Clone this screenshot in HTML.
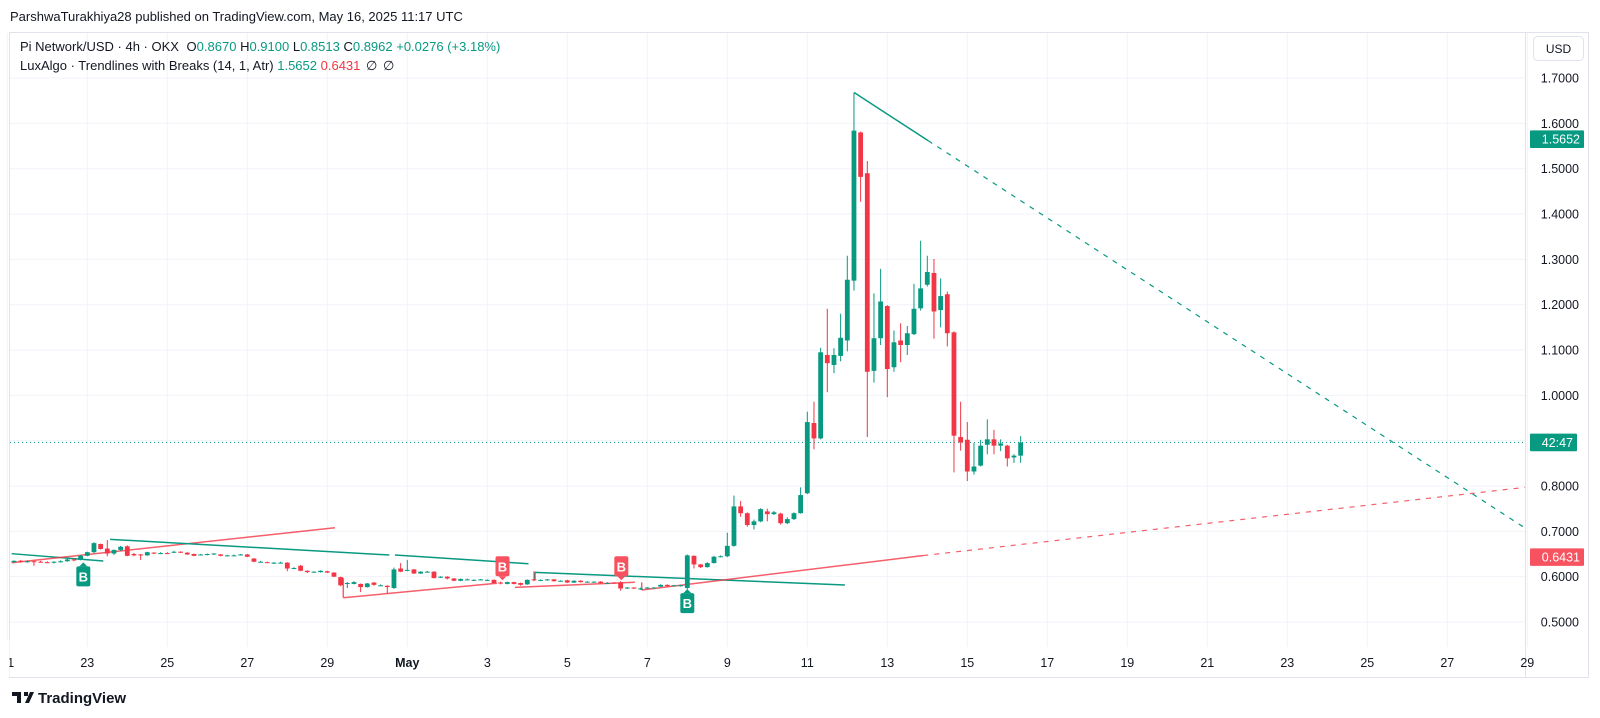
<!DOCTYPE html>
<html><head><meta charset="utf-8">
<style>
body{margin:0;background:#fff;width:1600px;height:718px;overflow:hidden;font-family:"Liberation Sans",sans-serif}
svg{position:absolute;left:0;top:0}
text{font-family:"Liberation Sans",sans-serif}
</style></head>
<body>
<svg id="chart" width="1600" height="718" viewBox="0 0 1600 718">
  <defs><clipPath id="plotclip"><rect x="10" y="33" width="1515" height="614"/></clipPath></defs>
  <text x="10" y="21" font-size="13" fill="#131722">ParshwaTurakhiya28 published on TradingView.com, May 16, 2025 11:17 UTC</text>
  <rect x="9.5" y="32.5" width="1579" height="645" fill="none" stroke="#e0e3eb"/>
  <g id="grid"></g>
  <line x1="1525.5" y1="33" x2="1525.5" y2="677" stroke="#e0e3eb"/>
  <g id="yaxis"></g>
  <g id="xaxis"></g>
  <g id="marks" clip-path="url(#plotclip)"></g>
  <g>
    <text x="20" y="51" font-size="13" fill="#131722">Pi Network/USD · 4h · OKX <tspan dx="4">O</tspan><tspan fill="#089981">0.8670</tspan> <tspan>H</tspan><tspan fill="#089981">0.9100</tspan> <tspan>L</tspan><tspan fill="#089981">0.8513</tspan> <tspan>C</tspan><tspan fill="#089981">0.8962 +0.0276 (+3.18%)</tspan></text>
    <text x="20" y="70" font-size="13" fill="#131722">LuxAlgo · Trendlines with Breaks (14, 1, Atr) <tspan fill="#089981">1.5652</tspan> <tspan fill="#f23645">0.6431</tspan> <tspan dx="2">∅</tspan> <tspan dx="2">∅</tspan></text>
  </g>
  <g>
    <rect x="1533.5" y="36.5" width="50" height="24" rx="4" fill="#fff" stroke="#e0e3eb"/>
    <text x="1558.5" y="53" font-size="12" fill="#131722" text-anchor="middle">USD</text>
  </g>
  <g>
    <path d="M12 692 h9 v11 h-4 v-7 h-5 z M24 692 h4 v4 h-4 z M30 692 h4 l-5 11 h-4 z" fill="#131722"/>
    <text x="38" y="703" font-size="15" font-weight="bold" fill="#131722">TradingView</text>
  </g>
</svg>
<script>
const opens=[.634,.632,.635,.633,.634,.633,.632,.631,.633,.634,.638,.637,.646,.654,.672,.662,.651,.659,.667,.650,.649,.647,.653,.652,.652,.653,.655,.653,.650,.648,.648,.650,.649,.647,.647,.648,.649,.640,.633,.632,.629,.631,.631,.619,.624,.613,.611,.610,.612,.609,.599,.585,.584,.584,.577,.587,.581,.580,.575,.618,.613,.616,.607,.611,.611,.599,.600,.596,.591,.594,.593,.594,.593,.593,.587,.584,.588,.586,.583,.594,.592,.593,.594,.590,.592,.587,.591,.589,.589,.589,.586,.587,.587,.575,.576,.574,.575,.575,.578,.582,.580,.580,.575,.646,.627,.621,.630,.644,.645,.668,.755,.740,.714,.722,.744,.738,.739,.718,.727,.740,.784,.939,.905,1.089,1.067,1.087,1.121,1.253,1.580,1.490,1.054,1.126,1.197,1.062,1.121,1.111,1.135,1.192,1.244,1.270,1.188,1.223,1.139,.908,.902,.832,.845,.891,.903,.889,.889,.863,.867];
const highs=[.637,.636,.637,.636,.635,.635,.634,.634,.636,.641,.640,.648,.655,.676,.673,.681,.660,.668,.669,.652,.650,.655,.654,.654,.654,.657,.656,.654,.651,.650,.651,.652,.650,.648,.649,.650,.650,.641,.635,.633,.632,.633,.632,.621,.626,.614,.612,.614,.613,.610,.600,.588,.590,.585,.586,.588,.583,.581,.620,.630,.637,.617,.612,.613,.612,.601,.601,.597,.596,.596,.594,.595,.594,.594,.589,.589,.589,.587,.594,.612,.594,.595,.595,.592,.593,.592,.592,.590,.590,.590,.588,.588,.590,.577,.577,.576,.577,.577,.583,.583,.582,.582,.649,.647,.628,.632,.646,.647,.697,.779,.767,.742,.726,.751,.750,.745,.741,.731,.742,.797,.964,.986,1.105,1.191,1.104,1.180,1.308,1.668,1.582,1.517,1.225,1.279,1.199,1.143,1.159,1.153,1.246,1.341,1.308,1.301,1.258,1.229,1.141,.986,.941,.895,.902,.947,.924,.903,.891,.870,.910];
const lows=[.630,.630,.631,.631,.624,.631,.630,.629,.631,.633,.634,.636,.645,.652,.660,.645,.648,.657,.645,.645,.637,.646,.650,.650,.650,.652,.652,.648,.645,.647,.647,.648,.645,.645,.646,.647,.643,.632,.632,.630,.628,.630,.612,.617,.612,.608,.609,.609,.608,.599,.579,.575,.583,.566,.576,.580,.580,.562,.573,.610,.612,.606,.606,.609,.596,.597,.594,.590,.590,.592,.591,.592,.591,.585,.583,.583,.583,.580,.582,.590,.590,.591,.589,.589,.586,.586,.587,.587,.587,.585,.585,.585,.569,.573,.573,.571,.574,.574,.577,.578,.579,.578,.572,.618,.619,.620,.629,.643,.643,.666,.732,.710,.704,.720,.722,.736,.715,.716,.725,.739,.782,.881,.903,1.007,1.049,1.075,1.097,1.231,1.427,.908,1.028,1.111,.996,1.052,1.073,1.089,1.133,1.187,1.240,1.125,1.150,1.108,.830,.878,.811,.825,.843,.870,.870,.877,.843,.851,.851];
const closes=[.632,.635,.633,.634,.633,.632,.631,.633,.634,.638,.637,.646,.654,.674,.661,.651,.659,.666,.646,.647,.647,.654,.652,.652,.651,.655,.653,.649,.646,.649,.650,.651,.646,.647,.647,.649,.644,.633,.633,.631,.631,.631,.618,.619,.613,.610,.611,.613,.609,.600,.581,.586,.588,.577,.585,.582,.581,.577,.616,.611,.615,.607,.611,.611,.597,.600,.596,.591,.595,.594,.593,.594,.593,.586,.586,.588,.584,.582,.593,.592,.593,.594,.590,.591,.587,.591,.588,.589,.589,.586,.586,.586,.574,.576,.575,.574,.576,.576,.582,.579,.581,.581,.647,.627,.621,.630,.644,.645,.668,.755,.740,.714,.722,.749,.738,.742,.718,.727,.740,.780,.941,.905,1.095,1.071,1.089,1.127,1.255,1.584,1.482,1.052,1.126,1.207,1.058,1.117,1.111,1.137,1.191,1.236,1.272,1.185,1.219,1.137,.911,.896,.832,.843,.889,.903,.889,.894,.861,.867,.896];
const priceTicks=[0.5,0.6,0.7,0.8,0.9,1.0,1.1,1.2,1.3,1.4,1.5,1.6,1.7];
const priceTickLabels=["0.5000","0.6000","0.7000","0.8000","","1.0000","1.1000","1.2000","1.3000","1.4000","1.5000","1.6000","1.7000"];
const dateTickDays=[0,2,4,6,8,10,12,14,16,18,20,22,24,26,28,30,32,34,36,38];
const dateTickLabels=["21","23","25","27","29","May","3","5","7","9","11","13","15","17","19","21","23","25","27","29"];
const lineDay1=[0.11,0.11,2.57,9.69,8.40,8.40,13.19,13.19,12.69,15.86,15.86,22.90,21.17,23.02];
const linePrice1=[0.6507,0.6308,0.6824,0.6478,0.5536,0.597,0.6096,0.5926,0.5765,0.5706,0.5876,0.6466,1.668,1.562];
const lineDay2=[2.40,8.19,9.55,13.03,12.24,8.40,20.94,13.19,15.69,22.90,15.86,38.02,23.02,38.02];
const linePrice2=[0.6346,0.7080,0.6478,0.6286,0.5854,0.5536,0.5816,0.6096,0.5876,0.6466,0.5706,0.7978,1.562,0.703];
const lineColor=["t","r","t","t","r","r","t","t","r","r","r","r","t","t"];
const lineDashed=[0,0,0,0,0,0,0,0,0,0,0,1,0,1];
const breakDay=[1.9,12.38,15.35,17.0];
const breakPrice=[0.636,0.5854,0.5854,0.577];
const breakType=["up","down","down","up"];
const lastPrice=0.8962, upperValue=1.5652, lowerValue=0.6431;

const NS="http://www.w3.org/2000/svg";
const xDay=d=>7.3+40*d;
const yP=p=>622-(p-0.5)*453.3;
const G="#089981",R="#f23645";
function mk(tag,attrs,parent){const e=document.createElementNS(NS,tag);for(const k in attrs)e.setAttribute(k,attrs[k]);parent.appendChild(e);return e;}
const grid=document.getElementById('grid'),yax=document.getElementById('yaxis'),xax=document.getElementById('xaxis'),marks=document.getElementById('marks');

priceTicks.forEach((p,i)=>{
  const y=yP(p);
  const gl=mk('line',{x1:10,x2:1525,y1:y,y2:y,stroke:'#f0f3fa'},grid);
  
  
  const t=mk('text',{x:1579,y:y+4.5,'font-size':12.5,fill:'#131722','text-anchor':'end'},yax);
  t.textContent=priceTickLabels[i];
  
  
});
dateTickDays.forEach((d,i)=>{
  const x=xDay(d);
  const gl=mk('line',{x1:x,x2:x,y1:33,y2:647,stroke:'#f0f3fa'},grid);
  
  
  const t=mk('text',{x:x,y:667,'font-size':12.5,fill:'#131722','text-anchor':'middle','font-weight':dateTickLabels[i]==='May'?'bold':'normal'},xax);
  t.textContent=dateTickLabels[i];
  
  
});
const cover=mk('rect',{x:0,y:640,width:9.5,height:37,fill:'#fff'},xax);



const cl=mk('line',{x1:10,x2:1525,y1:yP(lastPrice),y2:yP(lastPrice),stroke:G,'stroke-dasharray':'1 3','stroke-width':1},marks);



lineDay1.forEach((d,i)=>{
  const col=lineColor[i]==='t'?G:R;
  const ln=mk('line',{x1:xDay(d),y1:yP(linePrice1[i]),x2:xDay(lineDay2[i]),y2:yP(linePrice2[i]),stroke:col,'stroke-width':1.5,'stroke-opacity':lineColor[i]==='r'?0.8:1},marks);
  if(lineDashed[i]){ln.setAttribute('stroke-dasharray','5 6');ln.setAttribute('stroke-width',1.2);}
  
  
});

closes.forEach((c,i)=>{
  const o=opens[i],h=highs[i],l=lows[i];
  const x=xDay(i/6);
  const col=c>=o?G:R;
  const g=mk('g',{},marks);
  
  
  mk('line',{x1:x,x2:x,y1:yP(h),y2:yP(l),stroke:col,'stroke-width':1},g);
  const top=yP(Math.max(o,c)),bot=yP(Math.min(o,c));
  mk('rect',{x:x-2.4,y:top,width:4.8,height:Math.max(1,bot-top),fill:col},g);
});

breakDay.forEach((d,i)=>{
  const x=xDay(d),y=yP(breakPrice[i]);
  const up=breakType[i]==='up';
  const col=up?G:'#f7525f';
  const g=mk('g',{},marks);
  
  
  let by=up?y+6:y-27;
  mk('rect',{x:x-7,y:by,width:14,height:20,rx:2,fill:col},g);
  if(up) mk('path',{d:`M${x-4} ${by} L${x} ${by-4} L${x+4} ${by} Z`,fill:col},g);
  else mk('path',{d:`M${x-4} ${by+20} L${x} ${by+24} L${x+4} ${by+20} Z`,fill:col},g);
  const t=mk('text',{x:x,y:by+15,'font-size':13,'font-weight':'bold',fill:'#fff','text-anchor':'middle'},g);
  t.textContent='B';
});

function axisBox(p,txt,col,w,name){
  const y=yP(p);
  const g=mk('g',{},yax);
  
  
  mk('rect',{x:1530,y:y-8.8,width:w,height:17.6,rx:1,fill:col},g);
  const t=mk('text',{x:1530+w-4,y:y+4.5,'font-size':12.5,fill:'#fff','text-anchor':'end'},g);
  t.textContent=txt;
}
axisBox(upperValue,upperValue.toFixed(4),G,54,'upper-trendline-value');
axisBox(lastPrice,'42:47',G,47,'bar-countdown');
axisBox(lowerValue,lowerValue.toFixed(4),'#f7525f',54,'lower-trendline-value');
</script>
</body></html>
